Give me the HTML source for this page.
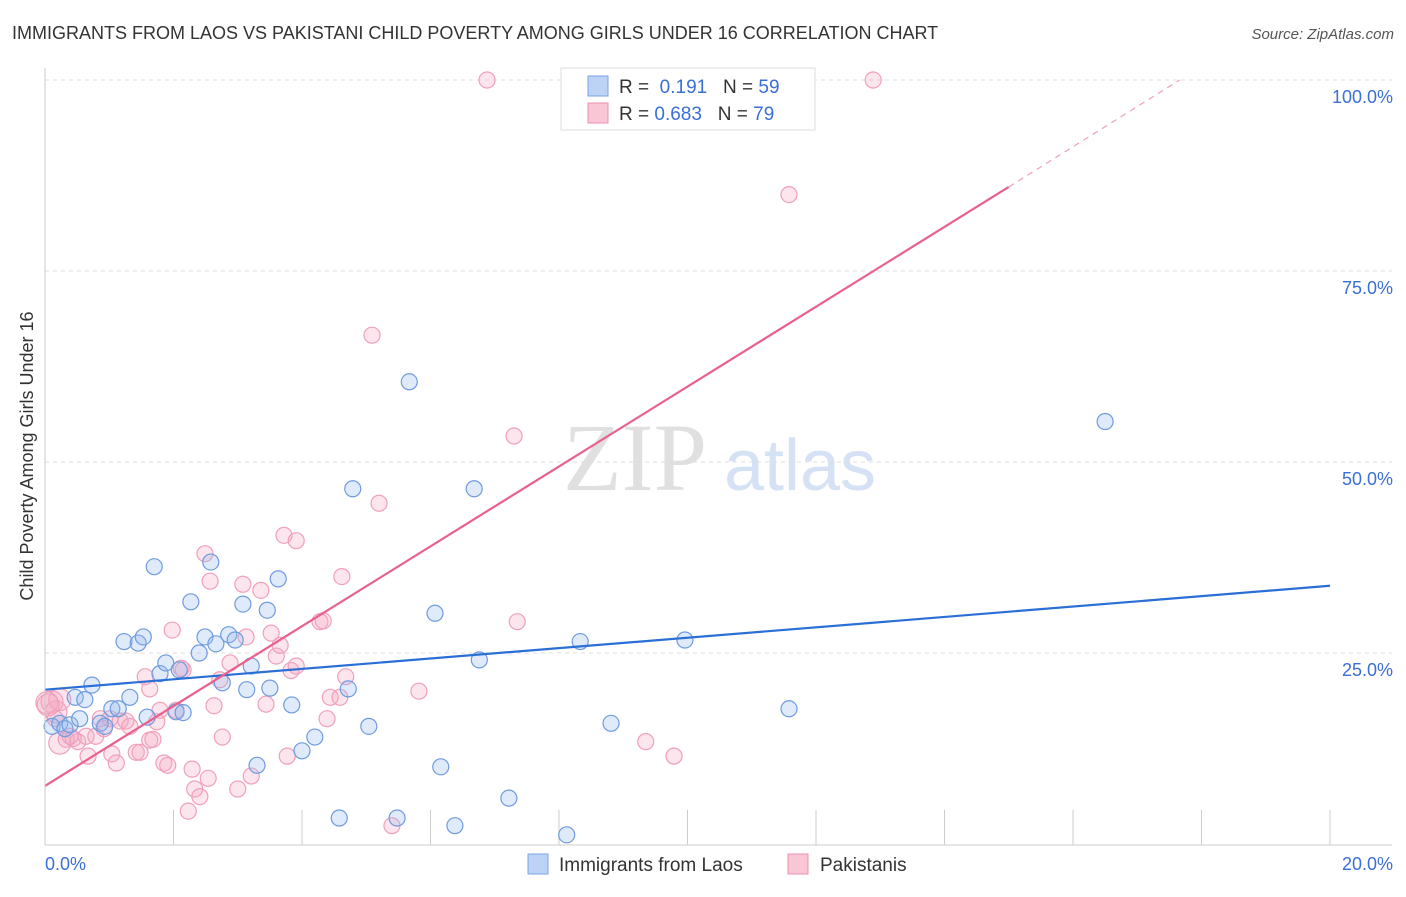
<!DOCTYPE html>
<html><head><meta charset="utf-8"><style>
body{margin:0;background:#fff;font-family:"Liberation Sans",sans-serif;}
svg text{font-family:"Liberation Sans",sans-serif;}
</style></head><body>
<svg id="chart" width="1406" height="892">
<text x="12" y="39" font-size="18" fill="#333">IMMIGRANTS FROM LAOS VS PAKISTANI CHILD POVERTY AMONG GIRLS UNDER 16 CORRELATION CHART</text>
<text x="1394" y="39" font-size="15" fill="#555" font-style="italic" text-anchor="end">Source: ZipAtlas.com</text>
<text x="0" y="0" transform="translate(33,456) rotate(-90)" font-size="18" fill="#333" text-anchor="middle">Child Poverty Among Girls Under 16</text>
<text x="635" y="490" font-size="96" fill="#e0e0e0" style="font-family:'Liberation Serif',serif" text-anchor="middle">ZIP</text>
<text x="800" y="490" font-size="72" fill="#d5e2f5" text-anchor="middle">atlas</text>
<g id="grid"></g><g id="pts"></g><g id="lines"></g>
<line x1="45" y1="68" x2="45" y2="845" stroke="#ccc"/>
<line x1="45" y1="845" x2="1392" y2="845" stroke="#ccc"/>
<text x="45" y="870" font-size="18" fill="#3a6fd8">0.0%</text>
<text x="1393" y="870" font-size="18" fill="#3a6fd8" text-anchor="end">20.0%</text>
<g>
<rect x="561" y="68" width="254" height="62" fill="#fff" stroke="#ddd"/>
<rect x="588" y="76" width="20" height="20" fill="#bcd3f5" stroke="#7aa3e5"/>
<rect x="588" y="103" width="20" height="20" fill="#f9c6d6" stroke="#ee8fae"/>
<text x="619" y="93" font-size="19" fill="#333">R = <tspan fill="#3a6fd8">&#160;0.191</tspan>&#160;&#160;&#160;N = <tspan fill="#3a6fd8">59</tspan></text>
<text x="619" y="120" font-size="19" fill="#333">R = <tspan fill="#3a6fd8">0.683</tspan>&#160;&#160;&#160;N = <tspan fill="#3a6fd8">79</tspan></text>
</g>
<g>
<rect x="528" y="854" width="20" height="20" fill="#bcd3f5" stroke="#7aa3e5"/>
<text x="559" y="871" font-size="19" fill="#333">Immigrants from Laos</text>
<rect x="788" y="854" width="20" height="20" fill="#f9c6d6" stroke="#ee8fae"/>
<text x="820" y="871" font-size="19" fill="#333">Pakistanis</text>
</g>
</svg>
<script>
const yTicks=[25,50,75,100];
const xTickCount=10;
const blueX=[0.11,0.23,0.31,0.39,0.47,0.54,0.62,0.73,0.86,0.93,1.04,1.14,1.23,1.32,1.45,1.53,1.59,1.70,1.79,1.88,2.04,2.09,2.15,2.27,2.40,2.49,2.58,2.66,2.76,2.86,2.96,3.08,3.14,3.21,3.30,3.46,3.50,3.63,3.84,4.00,4.20,4.58,4.72,4.79,5.04,5.48,5.67,6.07,6.16,6.38,6.68,6.76,7.22,8.12,8.33,8.81,9.96,11.58,16.50];
const blueY=[15.4,15.8,15.1,15.6,19.2,16.4,18.9,20.8,15.8,15.4,17.7,17.7,26.5,19.2,26.3,27.1,16.6,36.3,22.3,23.7,17.3,22.8,17.2,31.7,25.0,27.1,36.9,26.2,21.1,27.4,26.7,31.4,20.2,23.3,10.3,30.6,20.4,34.7,18.2,12.2,14.0,3.4,20.3,46.5,15.4,3.4,60.5,30.2,10.1,2.4,46.5,24.1,6.0,1.2,26.5,15.8,26.7,17.7,55.3];
const pinkX=[0.03,0.11,0.17,0.23,0.33,0.44,0.51,0.64,0.67,0.79,0.86,0.92,1.04,1.11,1.17,1.26,1.32,1.42,1.48,1.56,1.63,1.68,1.74,1.79,1.85,1.91,1.98,2.04,2.12,2.23,2.29,2.33,2.41,2.49,2.54,2.57,2.63,2.72,2.76,2.88,3.00,3.08,3.13,3.21,3.36,3.44,3.52,3.60,3.66,3.72,3.77,3.83,3.91,3.91,4.28,4.33,4.39,4.44,4.59,4.62,4.68,5.09,5.20,5.40,5.82,6.88,7.30,7.35,9.35,9.79,11.58,12.89,0.23,0.05,0.16,0.39,1.63,2.15,1.01];
const pinkY=[18.5,18.6,17.3,13.2,13.7,13.8,13.4,14.1,11.5,14.1,16.4,15.1,11.8,10.6,16.1,16.1,15.4,12.0,12.0,21.9,13.6,13.7,16.0,17.5,10.6,10.3,28.0,17.5,23.0,4.3,9.8,7.2,6.2,38.0,8.6,34.4,18.1,21.5,14.0,23.7,7.2,34.0,27.1,8.9,33.2,18.3,27.6,24.6,26.0,40.4,11.5,22.7,39.7,23.3,29.1,29.2,16.4,19.2,19.2,35.0,21.9,66.6,44.6,2.4,20.0,100,53.4,29.1,13.4,11.5,85.0,100,18.9,18.2,16.4,14.1,20.3,22.8,16.4];
const blueLine=[20.2,33.8];
const pinkLine=[7.6,86.0,100];
const pinkLineX=[0,15.0,17.66];
const NS='http://www.w3.org/2000/svg';
const X0=45,X1=1330,Y0=844,YH=80;
function sx(v){return X0+(X1-X0)*v/20;}
function sy(v){return Y0-(Y0-YH)*v/100;}
function mk(tag,attrs,parent){const e=document.createElementNS(NS,tag);for(const k in attrs)e.setAttribute(k,attrs[k]);document.getElementById(parent).appendChild(e);return e;}
yTicks.forEach(t=>{
 const l=mk('line',{x1:45,x2:1392,y1:sy(t),y2:sy(t),stroke:'#ddd','stroke-dasharray':'4,4'},'grid');
 
 
 const tx=mk('text',{x:1393,y:sy(t)+23,'font-size':18,fill:'#3a6fd8','text-anchor':'end'},'grid');
 tx.textContent=t.toFixed(1)+'%';
 
 
});
for(let i=1;i<=xTickCount;i++){
 const l=mk('line',{x1:sx(i*2),x2:sx(i*2),y1:810,y2:845,stroke:'#ccc'},'grid');
 
 
}
pinkX.forEach((x,i)=>{
 const c=mk('circle',{cx:sx(x),cy:sy(pinkY[i]),r:(i<4||i>=72&&i<74)?11:8,fill:'rgba(246,170,195,0.3)',stroke:'#f0a0ba','stroke-width':1.2},'pts');
 
 
});
blueX.forEach((x,i)=>{
 const c=mk('circle',{cx:sx(x),cy:sy(blueY[i]),r:8,fill:'rgba(150,185,240,0.3)',stroke:'#6f9be0','stroke-width':1.2},'pts');
 
 
});
const bl=mk('line',{x1:sx(0),y1:sy(blueLine[0]),x2:sx(20),y2:sy(blueLine[1]),stroke:'#2a6fd6','stroke-width':2.2},'lines');


const pl=mk('line',{x1:sx(pinkLineX[0]),y1:sy(pinkLine[0]),x2:sx(pinkLineX[1]),y2:sy(pinkLine[1]),stroke:'#e8608c','stroke-width':2.2},'lines');


const pd=mk('line',{x1:sx(pinkLineX[1]),y1:sy(pinkLine[1]),x2:sx(pinkLineX[2]),y2:sy(pinkLine[2]),stroke:'#f0a0ba','stroke-width':1.2,'stroke-dasharray':'6,5'},'lines');


</script>
</body></html>
